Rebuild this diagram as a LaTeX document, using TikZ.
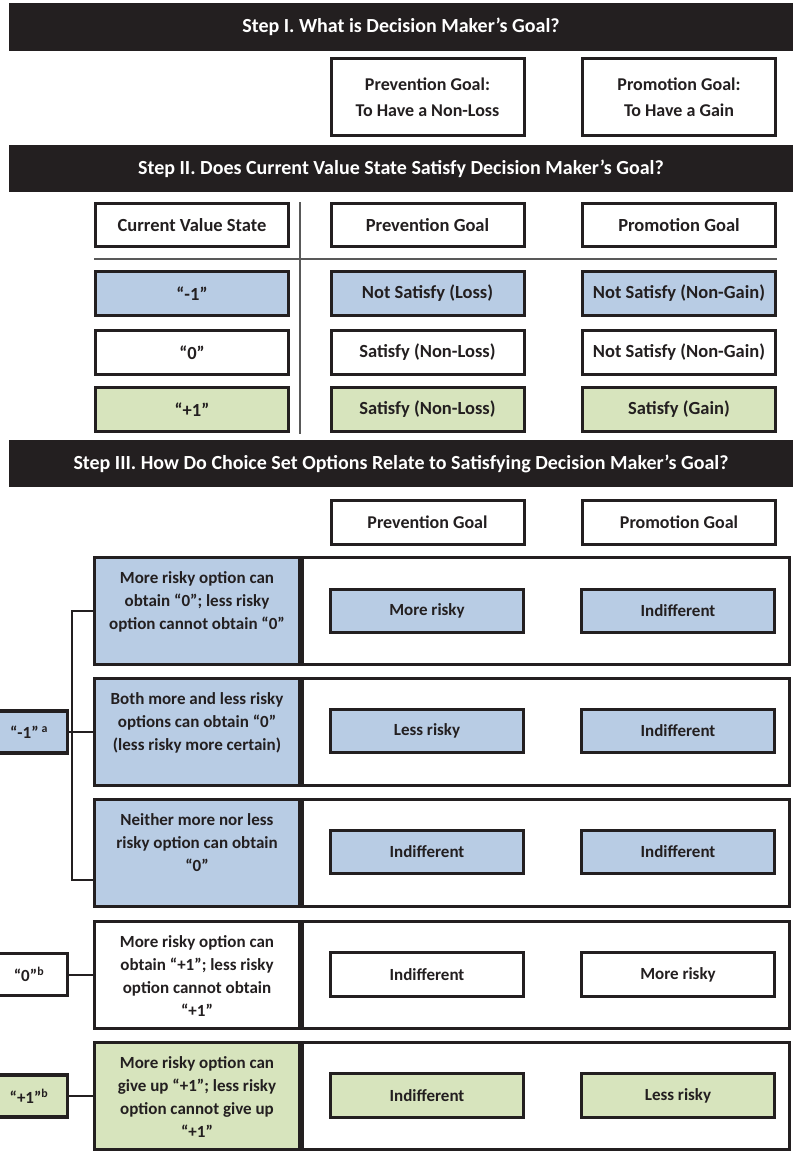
\documentclass[tikz,border=0pt]{standalone}
\usepackage{fontspec}
\setmainfont{Carlito}
\definecolor{barblack}{HTML}{231F20}
\definecolor{lossblue}{HTML}{B8CCE4}
\definecolor{gaingreen}{HTML}{D7E4BD}
\newcommand{\desclines}[1]{\parbox[c][78pt][t]{200pt}{\centering #1}}
\begin{document}
\begin{tikzpicture}[x=1pt, y=-1pt,
  every node/.style={font=\bfseries\fontsize{17}{23}\selectfont, text=barblack, inner sep=0pt, align=center},
  stepbar/.style={fill=barblack, text=white, minimum width=784pt, minimum height=47.5pt, font=\bfseries\fontsize{20}{24}\selectfont},
  cellbox/.style={draw=barblack, line width=3pt, fill=white, minimum width=193pt, minimum height=43.5pt},
  lossbox/.style={cellbox, fill=lossblue},
  gainbox/.style={cellbox, fill=gaingreen},
  headbox/.style={cellbox, font=\bfseries\fontsize{18}{23}\selectfont},
  tablebox/.style={font=\bfseries\fontsize{18.5}{23}\selectfont},
  rowframe/.style={draw=barblack, line width=3pt, minimum width=487pt, minimum height=107pt},
  descbox/.style={draw=barblack, line width=3pt, minimum width=205pt, minimum height=107pt},
  statebox/.style={draw=barblack, line width=3.5pt, minimum width=77pt, minimum height=42pt},
  tableline/.style={draw=black!65, line width=1.3pt},
  bracket/.style={draw=barblack, line width=2pt}]
\useasboundingbox (0,0) rectangle (793,1152);
% Step I
\node[stepbar] (bar1) at (401,27) {Step I. What is Decision Maker’s Goal?};
\node[headbox, minimum height=77pt] (goalprev) at (427.5,97) {Prevention Goal:\\[3pt]To Have a Non-Loss};
\node[headbox, minimum height=77pt] (goalprom) at (679,97) {Promotion Goal:\\[3pt]To Have a Gain};
% Step II
\node[stepbar] (bar2) at (401,168.5) {Step II. Does Current Value State Satisfy Decision Maker’s Goal?};
\node[cellbox, tablebox] (cvshead) at (192,225) {Current Value State};
\node[cellbox, tablebox] (prevhead) at (427.5,225) {Prevention Goal};
\node[cellbox, tablebox] (promhead) at (679,225) {Promotion Goal};
\draw[tableline] (94,259) -- (777,259); % row rule
\draw[tableline] (300,202) -- (300,434); % column rule
\node[lossbox, tablebox] (cvsneg) at (192,293.5) {“-1”};
\node[lossbox, tablebox] (prevneg) at (427.5,293.5) {Not Satisfy (Loss)};
\node[lossbox, tablebox] (promneg) at (679,293.5) {Not Satisfy (Non-Gain)};
\node[cellbox, tablebox] (cvszero) at (192,352.5) {“0”};
\node[cellbox, tablebox] (prevzero) at (427.5,352.5) {Satisfy (Non-Loss)};
\node[cellbox, tablebox] (promzero) at (679,352.5) {Not Satisfy (Non-Gain)};
\node[gainbox, tablebox] (cvspos) at (192,409.5) {“+1”};
\node[gainbox, tablebox] (prevpos) at (427.5,409.5) {Satisfy (Non-Loss)};
\node[gainbox, tablebox] (prompos) at (679,409.5) {Satisfy (Gain)};
% Step III
\node[stepbar] (bar3) at (401,463.5) {Step III. How Do Choice Set Options Relate to Satisfying Decision Maker’s Goal?};
\node[headbox] (prevhead3) at (427.5,522.5) {Prevention Goal};
\node[headbox] (promhead3) at (679,522.5) {Promotion Goal};
% row 1
\node[rowframe] (frame1) at (546,611) {};
\node[descbox, fill=lossblue] (desc1) at (197,611) {\desclines{More risky option can\\obtain “0”; less risky\\option cannot obtain “0”}};
\node[lossbox] (prev1) at (427,611) {More risky};
\node[lossbox] (prom1) at (678,611) {Indifferent};
% row 2
\node[rowframe] (frame2) at (546,732) {};
\node[descbox, fill=lossblue] (desc2) at (197,732) {\desclines{Both more and less risky\\options can obtain “0”\\(less risky more certain)}};
\node[lossbox] (prev2) at (427,731) {Less risky};
\node[lossbox] (prom2) at (678,731) {Indifferent};
% row 3
\node[rowframe] (frame3) at (546,853) {};
\node[descbox, fill=lossblue] (desc3) at (197,853) {\desclines{Neither more nor less\\risky option can obtain\\“0”}};
\node[lossbox] (prev3) at (427,852) {Indifferent};
\node[lossbox] (prom3) at (678,852) {Indifferent};
% row 4
\node[rowframe] (frame4) at (546,974.5) {};
\node[descbox, fill=white] (desc4) at (197,974.5) {\desclines{More risky option can\\obtain “+1”; less risky\\option cannot obtain\\“+1”}};
\node[cellbox] (prev4) at (427,974.5) {Indifferent};
\node[cellbox] (prom4) at (678,974.5) {More risky};
% row 5
\node[rowframe] (frame5) at (546,1096) {};
\node[descbox, fill=gaingreen] (desc5) at (197,1096) {\desclines{More risky option can\\give up “+1”; less risky\\option cannot give up\\“+1”}};
\node[gainbox] (prev5) at (427,1095.5) {Indifferent};
\node[gainbox] (prom5) at (678,1095.5) {Less risky};
% current value states
\node[statebox, fill=lossblue] (stateneg) at (29,732) {“-1”\,\textsuperscript{a}};
\node[statebox, fill=white] (statezero) at (29,974.5) {“0”\textsuperscript{b}};
\node[statebox, fill=gaingreen] (statepos) at (29,1096) {“+1”\textsuperscript{b}};
\coordinate (brtop) at (72,611);
\coordinate (brbot) at (72,880);
\draw[bracket] (desc1.west) -- (brtop) -- (brbot) -- (desc3.west |- brbot);
\draw[bracket] (stateneg.east) -- (desc2.west);
\draw[bracket] (statezero.east) -- (desc4.west);
\draw[bracket] (statepos.east) -- (desc5.west);
\end{tikzpicture}
\end{document}
